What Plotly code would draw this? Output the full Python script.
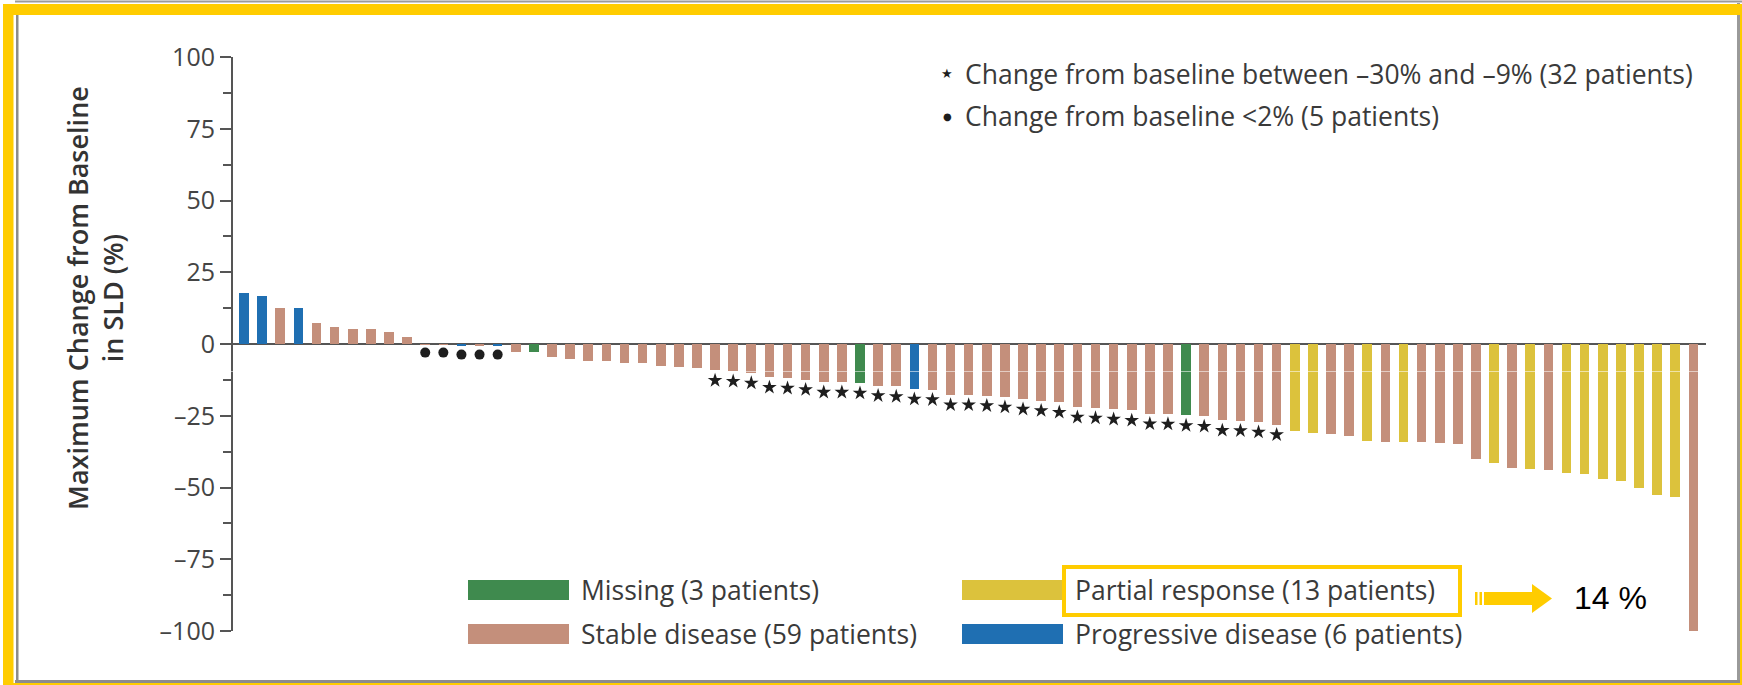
import plotly.graph_objects as go

# Maximum change from baseline in sum of longest diameters, one bar per patient
values = [
    17.8, 16.8, 12.7, 12.7, 7.4, 6.0, 5.3, 5.2, 4.1, 2.3,
    -0.1, -0.1, -0.8, -0.8, -0.8, -2.7, -2.7, -4.5, -5.3, -5.8,
    -5.8, -6.6, -6.7, -7.6, -7.9, -8.2, -9.2, -9.5, -10.1, -11.6,
    -11.9, -12.4, -13.3, -13.3, -13.6, -14.5, -14.8, -15.7, -15.9, -17.7,
    -17.7, -18.0, -18.5, -19.2, -19.7, -20.3, -22.0, -22.3, -22.7, -23.1,
    -24.3, -24.4, -24.9, -25.2, -26.6, -26.7, -27.2, -28.1, -30.4, -31.0,
    -31.3, -31.9, -33.7, -34.0, -34.0, -34.3, -34.5, -34.8, -40.0, -41.3,
    -43.3, -43.6, -43.8, -44.8, -45.2, -47.0, -47.7, -50.0, -52.6, -53.4,
    -100.0,
]

# Best response per patient: PD progressive, SD stable, PR partial, NA missing
response = [
    "PD", "PD", "SD", "PD", "SD", "SD", "SD", "SD", "SD", "SD",
    "SD", "SD", "PD", "SD", "PD", "SD", "NA", "SD", "SD", "SD",
    "SD", "SD", "SD", "SD", "SD", "SD", "SD", "SD", "SD", "SD",
    "SD", "SD", "SD", "SD", "NA", "SD", "SD", "PD", "SD", "SD",
    "SD", "SD", "SD", "SD", "SD", "SD", "SD", "SD", "SD", "SD",
    "SD", "SD", "NA", "SD", "SD", "SD", "SD", "SD", "PR", "PR",
    "SD", "SD", "PR", "SD", "PR", "SD", "SD", "SD", "SD", "PR",
    "SD", "PR", "SD", "PR", "PR", "PR", "PR", "PR", "PR", "PR",
    "SD",
]

legend_labels = {
    "NA": "Missing (3 patients)",
    "SD": "Stable disease (59 patients)",
    "PR": "Partial response (13 patients)",
    "PD": "Progressive disease (6 patients)",
}
marker_notes = [
    "Change from baseline between \u201330% and \u20139% (32 patients)",
    "Change from baseline <2% (5 patients)",
]
y_ticks = [-100, -75, -50, -25, 0, 25, 50, 75, 100]
y_tick_text = ["\u2013100", "\u201375", "\u201350", "\u201325", "0", "25", "50", "75", "100"]
highlight_text = "14 %"

colors = {"NA": "#3f8a4e", "SD": "#c48f7b", "PR": "#dcc23c", "PD": "#1f6fb2"}

patients = list(range(len(values)))

# Markers placed just beyond the end of each flagged bar
star_x = [i for i, v in zip(patients, values) if -30 <= v <= -9]
star_y = [values[i] - 3.5 for i in star_x]
dot_x = [i for i, v in zip(patients, values) if abs(v) < 2]
dot_y = [values[i] - 2.9 for i in dot_x]

W, H = 1742, 685
L, R, T, B = 233, 1706, 57, 631


def px(x):
    return (x - L) / (R - L)


def py(y):
    return (B - y) / (B - T)


FONT = "Open Sans, Noto Sans, DejaVu Sans, sans-serif"
TEXT = "#3a3a3a"
GOLD = "#ffcc00"

fig = go.Figure()
fig.add_trace(go.Bar(
    x=patients, y=values, width=0.53,
    marker=dict(color=[colors[r] for r in response], line=dict(width=0)),
    showlegend=False, hoverinfo="x+y",
))
fig.add_trace(go.Scatter(
    x=star_x, y=star_y, mode="markers",
    marker=dict(symbol="star", size=11, color="#1e1e1e", line=dict(width=0)),
    showlegend=False,
))
fig.add_trace(go.Scatter(
    x=dot_x, y=dot_y, mode="markers",
    marker=dict(symbol="circle", size=10, color="#1e1e1e", line=dict(width=0)),
    showlegend=False,
))

shapes = []
annotations = []


def rect(x0, y0, x1, y1, fill, layer="above"):
    shapes.append(dict(type="rect", xref="paper", yref="paper",
                       x0=px(x0), x1=px(x1), y0=py(y1), y1=py(y0),
                       fillcolor=fill, line=dict(width=0), layer=layer))


# Response legend: two columns of swatches with labels
legend_layout = [("NA", 468, 590), ("SD", 468, 634), ("PR", 962, 590), ("PD", 962, 634)]
for key, sx, sy in legend_layout:
    rect(sx, sy - 10, sx + 101, sy + 10, colors[key])
    annotations.append(dict(xref="paper", yref="paper", x=px(sx + 111), y=py(sy),
                            text=legend_labels[key], showarrow=False,
                            xanchor="left", yanchor="middle",
                            font=dict(family=FONT, size=26.5, color=TEXT)))

# Marker notes at the top right
for (sym, ssize), note, yy in zip([("\u2605", 13), ("\u25cf", 10)], marker_notes, [74, 116]):
    annotations.append(dict(xref="paper", yref="paper", x=px(947), y=py(yy),
                            text=sym, showarrow=False, xanchor="center", yanchor="middle",
                            font=dict(family="DejaVu Sans", size=ssize, color="#1e1e1e")))
    annotations.append(dict(xref="paper", yref="paper", x=px(963), y=py(yy),
                            text=note, showarrow=False, xanchor="left", yanchor="middle",
                            font=dict(family=FONT, size=26.5, color=TEXT)))

# Y axis title
annotations.append(dict(xref="paper", yref="paper", x=px(95), y=py(298),
                        text="Maximum Change from Baseline<br>in SLD (%)",
                        showarrow=False, textangle=-90, xanchor="center", yanchor="middle",
                        font=dict(family=FONT, size=27, color="#333333", weight=600)))

# Highlight box, arrow and share of partial responders
shapes.append(dict(type="rect", xref="paper", yref="paper",
                   x0=px(1064), x1=px(1460), y0=py(615), y1=py(567),
                   line=dict(color=GOLD, width=4), fillcolor="rgba(0,0,0,0)"))
rect(1475, 592, 1477.5, 605, GOLD)
rect(1479.5, 592, 1482, 605, GOLD)
rect(1484, 592, 1533, 605, GOLD)
shapes.append(dict(type="path", xref="paper", yref="paper",
                   path=f"M {px(1532)},{py(584)} L {px(1552)},{py(598.5)} L {px(1532)},{py(613)} Z",
                   fillcolor=GOLD, line=dict(width=0)))
annotations.append(dict(xref="paper", yref="paper", x=px(1572), y=py(598),
                        text=highlight_text, showarrow=False, xanchor="left", yanchor="middle",
                        font=dict(family="Liberation Sans Narrow, Arial Narrow, Liberation Sans, Arial",
                                  size=32, color="#000000")))

# Faint scan seam across the panel
shapes.append(dict(type="line", xref="paper", yref="paper",
                   x0=px(18), x1=px(1737), y0=py(371.5), y1=py(371.5),
                   line=dict(color="rgba(255,255,255,0.55)", width=1), layer="above"))

# Outer frame: gray rule and gold border
rect(15, 0.5, 1742, 2.5, "#9a9a9a")
rect(16, 15, 18.5, 682, "#8c8c8c")
rect(1737, 3, 1740, 682, "#9a9a9a")
rect(15, 680, 1740, 683, "#8c8c8c")
rect(3, 4, 1742, 15, GOLD)
rect(3, 4, 13.5, 685, GOLD)
rect(13, 683, 1742, 685, GOLD)
rect(1740, 15, 1742, 685, GOLD)

fig.update_layout(
    width=W, height=H,
    margin=dict(l=L, r=W - R, t=T, b=H - B, pad=0),
    paper_bgcolor="white", plot_bgcolor="white",
    bargap=0,
    xaxis=dict(range=[-0.61, 80.7], visible=False, fixedrange=True),
    yaxis=dict(
        range=[-100, 100], tickvals=y_ticks, ticktext=y_tick_text,
        showline=True, linecolor="#555555", linewidth=2,
        ticks="outside", ticklen=11, tickwidth=2, tickcolor="#555555",
        minor=dict(dtick=12.5, tick0=0, ticks="outside", ticklen=8, tickwidth=2,
                   tickcolor="#555555", showgrid=False),
        showgrid=False, zeroline=True, zerolinecolor="#555555", zerolinewidth=2,
        tickfont=dict(family=FONT, size=25, color="#444444"),
        fixedrange=True,
    ),
    shapes=shapes, annotations=annotations,
    showlegend=False,
)

fig.write_html("out.html")
